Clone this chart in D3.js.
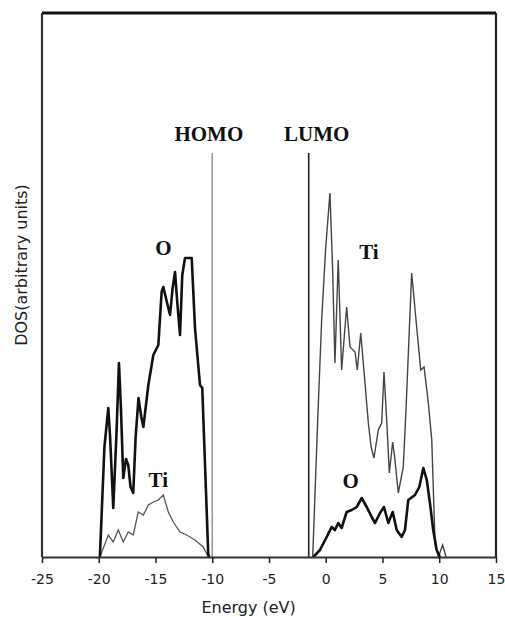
<!DOCTYPE html>
<html>
<head>
<meta charset="utf-8">
<script src="https://cdn.jsdelivr.net/npm/d3@7/dist/d3.min.js"></script>
<style>
  body { margin: 0; background: #fff; }
  .tick text { font-family: "DejaVu Sans", sans-serif; font-size: 14px; fill: #222; }
  .label { font-family: "Liberation Serif", "DejaVu Serif", serif; font-weight: bold; font-size: 21px; fill: #111; }
</style>
</head>
<body>
<div id="chart"></div>
<script>
// energy (eV) and DOS values (arbitrary units)
const oValenceE = [-19.9, -19.5, -19.16, -19.0, -18.72, -18.45, -18.22, -18.05, -17.84, -17.6, -17.4, -17.2, -16.96, -16.75, -16.5, -16.25, -16.07, -15.63, -15.19, -14.75, -14.46, -14.31, -14.0, -13.72, -13.5, -13.28, -13.05, -12.84, -12.64, -12.4, -11.81, -11.52, -11.08, -10.88, -10.35, -10.25];
const oValenceV = [0, 110, 149, 120, 49, 120, 194, 150, 79, 98, 92, 70, 64, 120, 159, 140, 130, 172, 202, 212, 265, 270, 255, 242, 268, 285, 250, 222, 282, 299, 299, 229, 172, 169, 2, 0];

const tiValenceE = [-19.9, -19.16, -18.72, -18.28, -17.84, -17.4, -16.96, -16.52, -16.07, -15.63, -15.19, -14.75, -14.31, -13.87, -13.43, -12.84, -12.25, -11.52, -10.79, -10.35];
const tiValenceV = [0, 22, 15, 27, 15, 25, 22, 45, 42, 52, 55, 57, 62, 45, 35, 25, 22, 17, 10, 0];

const tiCondE = [-1.15, -0.7, -0.36, 0.0, 0.37, 0.6, 0.81, 1.1, 1.4, 1.84, 2.14, 2.58, 2.78, 3.08, 3.46, 3.75, 4.0, 4.25, 4.63, 4.93, 5.13, 5.37, 5.6, 5.9, 6.1, 6.39, 6.83, 7.07, 7.57, 8.01, 8.37, 8.66, 9.04, 9.34, 9.63, 9.92, 10.3, 10.6];
const tiCondV = [0, 140, 237, 310, 364, 290, 194, 297, 187, 250, 210, 205, 187, 224, 174, 134, 110, 99, 127, 134, 185, 137, 84, 115, 97, 64, 90, 147, 284, 230, 187, 190, 154, 117, 14, 0, 12, 0];

const oCondE = [-1.1, -0.51, 0.08, 0.52, 0.81, 1.1, 1.4, 1.84, 2.29, 2.73, 3.17, 3.61, 4.05, 4.34, 4.78, 5.13, 5.51, 5.9, 6.25, 6.69, 6.98, 7.27, 7.86, 8.24, 8.6, 8.9, 9.18, 9.47, 9.77, 10.06];
const oCondV = [0, 7, 20, 30, 27, 34, 29, 45, 47, 50, 59, 50, 40, 34, 44, 50, 34, 45, 27, 20, 27, 57, 62, 70, 89, 77, 54, 27, 7, 0];

const xTicks = [-25, -20, -15, -10, -5, 0, 5, 10, 15];
const homoE = -10, lumoE = -1.5, gapLineTop = 404;

const labels = [
  { text: "HOMO", e: -10.3, v: 416 },
  { text: "LUMO", e: -0.8, v: 416 },
  { text: "O", e: -14.3, v: 302 },
  { text: "Ti", e: 3.8, v: 298 },
  { text: "Ti", e: -14.75, v: 70 },
  { text: "O", e: 2.2, v: 69 }
];

const W = 505, H = 617;
const margin = { top: 13, right: 9, bottom: 60, left: 42 };
const width = W - margin.left - margin.right;
const height = H - margin.top - margin.bottom;

const svg = d3.select("#chart")
    .append("svg")
    .attr("width", W)
    .attr("height", H)
    .append("g")
    .attr("transform", `translate(${margin.left},${margin.top})`);

const x = d3.scaleLinear().domain([-25, 15]).range([0, width]);
const y = d3.scaleLinear().domain([0, 544]).range([height, 0]);

const line = d3.line().x(d => x(d[0])).y(d => y(d[1]));
const pairs = (es, vs) => es.map((e, i) => [e, vs[i]]);

// frame
svg.append("line").attr("x1", 0).attr("x2", width).attr("y1", 0).attr("y2", 0)
    .attr("stroke", "#111").attr("stroke-width", 3);
svg.append("line").attr("x1", 0).attr("x2", 0).attr("y1", 0).attr("y2", height)
    .attr("stroke", "#333").attr("stroke-width", 2.2);
svg.append("line").attr("x1", width).attr("x2", width).attr("y1", 0).attr("y2", height)
    .attr("stroke", "#222").attr("stroke-width", 2.2);

// HOMO / LUMO markers
svg.append("line").attr("x1", x(homoE)).attr("x2", x(homoE))
    .attr("y1", y(gapLineTop)).attr("y2", height)
    .attr("stroke", "#999").attr("stroke-width", 1.6);
svg.append("line").attr("x1", x(lumoE)).attr("x2", x(lumoE))
    .attr("y1", y(gapLineTop)).attr("y2", height)
    .attr("stroke", "#222").attr("stroke-width", 1.6);

// curves
svg.append("path").datum(pairs(tiValenceE, tiValenceV)).attr("d", line)
    .attr("fill", "none").attr("stroke", "#555").attr("stroke-width", 1.3);
svg.append("path").datum(pairs(tiCondE, tiCondV)).attr("d", line)
    .attr("fill", "none").attr("stroke", "#444").attr("stroke-width", 1.4);
svg.append("path").datum(pairs(oValenceE, oValenceV)).attr("d", line)
    .attr("fill", "none").attr("stroke", "#111").attr("stroke-width", 2.6)
    .attr("stroke-linejoin", "round");
svg.append("path").datum(pairs(oCondE, oCondV)).attr("d", line)
    .attr("fill", "none").attr("stroke", "#111").attr("stroke-width", 2.6)
    .attr("stroke-linejoin", "round");

// x axis
const xAxis = svg.append("g")
    .attr("transform", `translate(0,${height})`)
    .call(d3.axisBottom(x).tickValues(xTicks).tickSize(6).tickSizeOuter(0).tickPadding(11)
        .tickFormat(d => String(d)));
xAxis.select(".domain").attr("stroke", "#333").attr("stroke-width", 2);
xAxis.selectAll(".tick line").attr("stroke", "#222").attr("stroke-width", 1.5);

svg.append("text")
    .attr("x", x(-6.8)).attr("y", height + 56)
    .attr("text-anchor", "middle")
    .style("font-family", "DejaVu Sans, sans-serif").style("font-size", "16px").style("fill", "#222")
    .text("Energy (eV)");

svg.append("text")
    .attr("transform", `translate(${-15},${265 - margin.top}) rotate(-90)`)
    .attr("text-anchor", "middle")
    .style("font-family", "DejaVu Sans, sans-serif").style("font-size", "16px").style("fill", "#222")
    .text("DOS(arbitrary units)");

svg.selectAll(".label").data(labels).join("text")
    .attr("class", "label")
    .attr("x", d => x(d.e)).attr("y", d => y(d.v))
    .attr("text-anchor", "middle")
    .text(d => d.text);
</script>
</body>
</html>
